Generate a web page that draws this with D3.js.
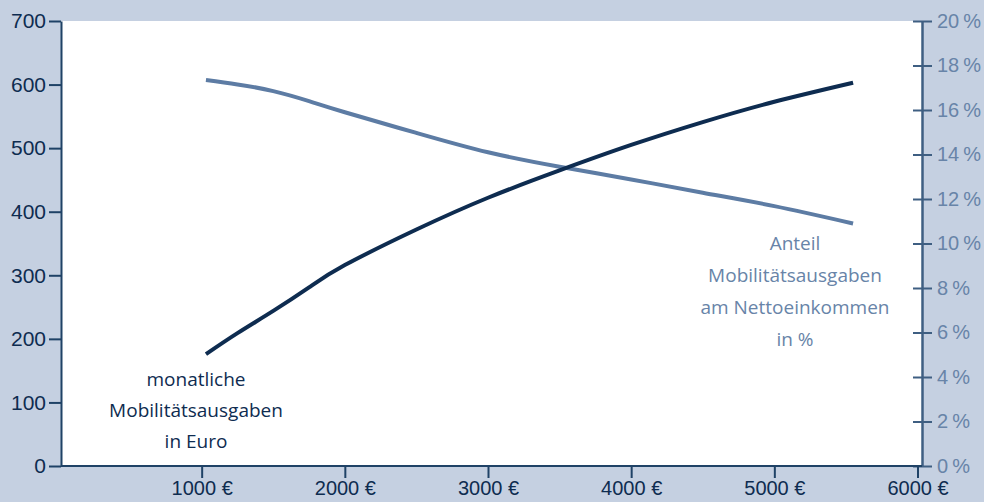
<!DOCTYPE html>
<html>
<head>
<meta charset="utf-8">
<script src="https://cdn.jsdelivr.net/npm/d3@7"></script>
<style>
  html, body { margin: 0; padding: 0; background: #c5d0e1; }
  svg { display: block; font-family: "Open Sans", sans-serif; }
</style>
</head>
<body>
<div id="chart"></div>
<script>
// data
var income = [1030, 1250, 1500, 1750, 2000, 2500, 3000, 3500, 4000, 4500, 5000, 5550];
var spending = [176, 209, 244, 281, 316, 372, 422, 465, 505, 541, 573, 603];
var share = [17.35, 17.15, 16.85, 16.4, 15.9, 14.97, 14.1, 13.45, 12.88, 12.28, 11.68, 10.9];

var xTicks = [1000, 2000, 3000, 4000, 5000, 6000];
var leftTicks = [0, 100, 200, 300, 400, 500, 600, 700];
var rightTicks = [0, 2, 4, 6, 8, 10, 12, 14, 16, 18, 20];

var labelSpending = ["monatliche", "Mobilitätsausgaben", "in Euro"];
var labelShare = ["Anteil", "Mobilitätsausgaben", "am Nettoeinkommen", "in %"];

// dimensions
var svgWidth = 984;
var svgHeight = 502;
var plot = { left: 61, right: 922, top: 21, bottom: 466 };

var dark = "#0e2c50";
var light = "#5d7ca4";
var axisDark = "#1f4266";
var axisLight = "#3f5f82";

var svg = d3.select("#chart")
    .append("svg")
    .attr("width", svgWidth)
    .attr("height", svgHeight);

// scales
var x = d3.scaleLinear().domain([0, 6000]).range([58.5, 917.5]);
var yLeft = d3.scaleLinear().domain([0, 700]).range([plot.bottom, plot.top]);
var yRight = d3.scaleLinear().domain([0, 20]).range([plot.bottom, plot.top]);

// white plot area
svg.append("rect")
    .attr("x", plot.left)
    .attr("y", plot.top)
    .attr("width", plot.right - plot.left)
    .attr("height", plot.bottom - plot.top)
    .attr("fill", "#ffffff");

// left axis
var leftAxis = svg.append("g")
    .attr("transform", "translate(" + plot.left + ",0)")
    .call(d3.axisLeft(yLeft).tickValues(leftTicks).tickSize(12).tickPadding(3).tickSizeOuter(0));
leftAxis.select(".domain").attr("stroke", axisDark).attr("stroke-width", 2);
leftAxis.selectAll(".tick line").attr("stroke", axisDark).attr("stroke-width", 2);
leftAxis.selectAll(".tick text")
    .attr("fill", dark)
    .style("font-size", "21px");

// right axis
var rightAxis = svg.append("g")
    .attr("transform", "translate(" + plot.right + ",0)")
    .call(d3.axisRight(yRight).tickValues(rightTicks).tickSize(10).tickPadding(5).tickSizeOuter(0)
        .tickFormat(function (d) { return d + "\u2009%"; }));
rightAxis.select(".domain").attr("stroke", axisLight).attr("stroke-width", 2.5);
rightAxis.selectAll(".tick line")
    .attr("x1", -9)
    .attr("stroke", axisLight)
    .attr("stroke-width", 2);
rightAxis.selectAll(".tick text")
    .attr("fill", "#6884a8")
    .style("font-size", "20px");

// bottom axis (domain drawn separately)
var bottomAxis = svg.append("g")
    .attr("transform", "translate(0," + plot.bottom + ")")
    .call(d3.axisBottom(x).tickValues(xTicks).tickSize(12).tickPadding(3)
        .tickFormat(function (d) { return d + " €"; }));
bottomAxis.select(".domain").remove();
bottomAxis.selectAll(".tick line").attr("stroke", axisDark).attr("stroke-width", 2);
bottomAxis.selectAll(".tick text")
    .attr("fill", dark)
    .style("font-size", "20px");

svg.append("line")
    .attr("x1", plot.left)
    .attr("x2", plot.right)
    .attr("y1", plot.bottom)
    .attr("y2", plot.bottom)
    .attr("stroke", axisDark)
    .attr("stroke-width", 2);

// lines
var shareLine = d3.line()
    .x(function (d, i) { return x(income[i]); })
    .y(function (d) { return yRight(d); })
    .curve(d3.curveNatural);

var spendLine = d3.line()
    .x(function (d, i) { return x(income[i]); })
    .y(function (d) { return yLeft(d); })
    .curve(d3.curveNatural);

svg.append("path")
    .datum(share)
    .attr("d", shareLine)
    .attr("fill", "none")
    .attr("stroke", light)
    .attr("stroke-width", 4);

svg.append("path")
    .datum(spending)
    .attr("d", spendLine)
    .attr("fill", "none")
    .attr("stroke", dark)
    .attr("stroke-width", 4);

// annotations
svg.append("text")
    .attr("x", 196)
    .attr("y", 386)
    .attr("text-anchor", "middle")
    .attr("fill", dark)
    .style("font-size", "19px")
    .selectAll("tspan")
    .data(labelSpending)
    .enter()
    .append("tspan")
    .attr("x", 196)
    .attr("dy", function (d, i) { return i == 0 ? 0 : 31; })
    .text(function (d) { return d; });

svg.append("text")
    .attr("x", 795)
    .attr("y", 250)
    .attr("text-anchor", "middle")
    .attr("fill", "#6884a8")
    .style("font-size", "19px")
    .selectAll("tspan")
    .data(labelShare)
    .enter()
    .append("tspan")
    .attr("x", 795)
    .attr("dy", function (d, i) { return i == 0 ? 0 : 32; })
    .text(function (d) { return d; });
</script>
</body>
</html>
